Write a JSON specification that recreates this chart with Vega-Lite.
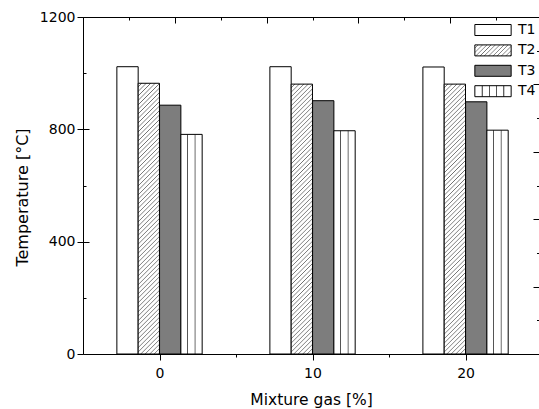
{
 "$schema": "https://vega.github.io/schema/vega-lite/v6.json",
 "width": 456,
 "height": 337,
 "autosize": {"type": "none"},
 "padding": {"left": 83, "top": 17, "right": 0, "bottom": 55},
 "background": "white",
 "config": {
  "view": {"stroke": null},
  "axis": {"grid": false, "domainColor": "black", "tickColor": "black", "labelColor": "black", "titleColor": "black", "labelFont": "DejaVu Sans", "titleFont": "DejaVu Sans", "labelFontSize": 14, "titleFontSize": 15.5, "titleFontWeight": "normal", "domainWidth": 1, "tickWidth": 1}
 },
 "params": [
  {"name": "g2", "value": {"gradient": "linear", "x1": 0, "y1": 0, "x2": 0.0867, "y2": 1.1, "stops": [
{"offset":0,"color":"#fff"},{"offset":0.009,"color":"#fff"},{"offset":0.012,"color":"#6e6e6e"},
{"offset":0.015,"color":"#fff"},{"offset":0.024,"color":"#fff"},{"offset":0.027,"color":"#6e6e6e"},
{"offset":0.03,"color":"#fff"},{"offset":0.039,"color":"#fff"},{"offset":0.042,"color":"#6e6e6e"},
{"offset":0.045,"color":"#fff"},{"offset":0.054,"color":"#fff"},{"offset":0.057,"color":"#6e6e6e"},
{"offset":0.06,"color":"#fff"},{"offset":0.069,"color":"#fff"},{"offset":0.072,"color":"#6e6e6e"},
{"offset":0.075,"color":"#fff"},{"offset":0.084,"color":"#fff"},{"offset":0.087,"color":"#6e6e6e"},
{"offset":0.09,"color":"#fff"},{"offset":0.099,"color":"#fff"},{"offset":0.102,"color":"#6e6e6e"},
{"offset":0.105,"color":"#fff"},{"offset":0.114,"color":"#fff"},{"offset":0.117,"color":"#6e6e6e"},
{"offset":0.12,"color":"#fff"},{"offset":0.129,"color":"#fff"},{"offset":0.132,"color":"#6e6e6e"},
{"offset":0.135,"color":"#fff"},{"offset":0.144,"color":"#fff"},{"offset":0.147,"color":"#6e6e6e"},
{"offset":0.15,"color":"#fff"},{"offset":0.159,"color":"#fff"},{"offset":0.162,"color":"#6e6e6e"},
{"offset":0.165,"color":"#fff"},{"offset":0.174,"color":"#fff"},{"offset":0.177,"color":"#6e6e6e"},
{"offset":0.18,"color":"#fff"},{"offset":0.189,"color":"#fff"},{"offset":0.192,"color":"#6e6e6e"},
{"offset":0.195,"color":"#fff"},{"offset":0.204,"color":"#fff"},{"offset":0.207,"color":"#6e6e6e"},
{"offset":0.21,"color":"#fff"},{"offset":0.219,"color":"#fff"},{"offset":0.222,"color":"#6e6e6e"},
{"offset":0.225,"color":"#fff"},{"offset":0.234,"color":"#fff"},{"offset":0.237,"color":"#6e6e6e"},
{"offset":0.24,"color":"#fff"},{"offset":0.249,"color":"#fff"},{"offset":0.252,"color":"#6e6e6e"},
{"offset":0.255,"color":"#fff"},{"offset":0.264,"color":"#fff"},{"offset":0.267,"color":"#6e6e6e"},
{"offset":0.27,"color":"#fff"},{"offset":0.279,"color":"#fff"},{"offset":0.282,"color":"#6e6e6e"},
{"offset":0.285,"color":"#fff"},{"offset":0.294,"color":"#fff"},{"offset":0.297,"color":"#6e6e6e"},
{"offset":0.3,"color":"#fff"},{"offset":0.309,"color":"#fff"},{"offset":0.312,"color":"#6e6e6e"},
{"offset":0.315,"color":"#fff"},{"offset":0.324,"color":"#fff"},{"offset":0.327,"color":"#6e6e6e"},
{"offset":0.33,"color":"#fff"},{"offset":0.339,"color":"#fff"},{"offset":0.342,"color":"#6e6e6e"},
{"offset":0.345,"color":"#fff"},{"offset":0.354,"color":"#fff"},{"offset":0.357,"color":"#6e6e6e"},
{"offset":0.36,"color":"#fff"},{"offset":0.369,"color":"#fff"},{"offset":0.372,"color":"#6e6e6e"},
{"offset":0.375,"color":"#fff"},{"offset":0.384,"color":"#fff"},{"offset":0.387,"color":"#6e6e6e"},
{"offset":0.39,"color":"#fff"},{"offset":0.399,"color":"#fff"},{"offset":0.402,"color":"#6e6e6e"},
{"offset":0.405,"color":"#fff"},{"offset":0.414,"color":"#fff"},{"offset":0.417,"color":"#6e6e6e"},
{"offset":0.42,"color":"#fff"},{"offset":0.429,"color":"#fff"},{"offset":0.432,"color":"#6e6e6e"},
{"offset":0.435,"color":"#fff"},{"offset":0.444,"color":"#fff"},{"offset":0.447,"color":"#6e6e6e"},
{"offset":0.45,"color":"#fff"},{"offset":0.459,"color":"#fff"},{"offset":0.462,"color":"#6e6e6e"},
{"offset":0.465,"color":"#fff"},{"offset":0.474,"color":"#fff"},{"offset":0.477,"color":"#6e6e6e"},
{"offset":0.48,"color":"#fff"},{"offset":0.489,"color":"#fff"},{"offset":0.492,"color":"#6e6e6e"},
{"offset":0.495,"color":"#fff"},{"offset":0.504,"color":"#fff"},{"offset":0.507,"color":"#6e6e6e"},
{"offset":0.51,"color":"#fff"},{"offset":0.519,"color":"#fff"},{"offset":0.522,"color":"#6e6e6e"},
{"offset":0.525,"color":"#fff"},{"offset":0.534,"color":"#fff"},{"offset":0.537,"color":"#6e6e6e"},
{"offset":0.54,"color":"#fff"},{"offset":0.549,"color":"#fff"},{"offset":0.552,"color":"#6e6e6e"},
{"offset":0.555,"color":"#fff"},{"offset":0.564,"color":"#fff"},{"offset":0.567,"color":"#6e6e6e"},
{"offset":0.57,"color":"#fff"},{"offset":0.579,"color":"#fff"},{"offset":0.582,"color":"#6e6e6e"},
{"offset":0.585,"color":"#fff"},{"offset":0.594,"color":"#fff"},{"offset":0.597,"color":"#6e6e6e"},
{"offset":0.6,"color":"#fff"},{"offset":0.609,"color":"#fff"},{"offset":0.612,"color":"#6e6e6e"},
{"offset":0.615,"color":"#fff"},{"offset":0.624,"color":"#fff"},{"offset":0.627,"color":"#6e6e6e"},
{"offset":0.63,"color":"#fff"},{"offset":0.639,"color":"#fff"},{"offset":0.642,"color":"#6e6e6e"},
{"offset":0.645,"color":"#fff"},{"offset":0.654,"color":"#fff"},{"offset":0.657,"color":"#6e6e6e"},
{"offset":0.66,"color":"#fff"},{"offset":0.669,"color":"#fff"},{"offset":0.672,"color":"#6e6e6e"},
{"offset":0.675,"color":"#fff"},{"offset":0.684,"color":"#fff"},{"offset":0.687,"color":"#6e6e6e"},
{"offset":0.69,"color":"#fff"},{"offset":0.699,"color":"#fff"},{"offset":0.702,"color":"#6e6e6e"},
{"offset":0.705,"color":"#fff"},{"offset":0.714,"color":"#fff"},{"offset":0.717,"color":"#6e6e6e"},
{"offset":0.72,"color":"#fff"},{"offset":0.729,"color":"#fff"},{"offset":0.732,"color":"#6e6e6e"},
{"offset":0.735,"color":"#fff"},{"offset":0.744,"color":"#fff"},{"offset":0.747,"color":"#6e6e6e"},
{"offset":0.75,"color":"#fff"},{"offset":0.759,"color":"#fff"},{"offset":0.762,"color":"#6e6e6e"},
{"offset":0.765,"color":"#fff"},{"offset":0.774,"color":"#fff"},{"offset":0.777,"color":"#6e6e6e"},
{"offset":0.78,"color":"#fff"},{"offset":0.789,"color":"#fff"},{"offset":0.792,"color":"#6e6e6e"},
{"offset":0.795,"color":"#fff"},{"offset":0.804,"color":"#fff"},{"offset":0.807,"color":"#6e6e6e"},
{"offset":0.81,"color":"#fff"},{"offset":0.819,"color":"#fff"},{"offset":0.822,"color":"#6e6e6e"},
{"offset":0.825,"color":"#fff"},{"offset":0.834,"color":"#fff"},{"offset":0.837,"color":"#6e6e6e"},
{"offset":0.84,"color":"#fff"},{"offset":0.849,"color":"#fff"},{"offset":0.852,"color":"#6e6e6e"},
{"offset":0.855,"color":"#fff"},{"offset":0.864,"color":"#fff"},{"offset":0.867,"color":"#6e6e6e"},
{"offset":0.87,"color":"#fff"},{"offset":0.879,"color":"#fff"},{"offset":0.882,"color":"#6e6e6e"},
{"offset":0.885,"color":"#fff"},{"offset":0.894,"color":"#fff"},{"offset":0.897,"color":"#6e6e6e"},
{"offset":0.9,"color":"#fff"},{"offset":0.909,"color":"#fff"},{"offset":0.912,"color":"#6e6e6e"},
{"offset":0.915,"color":"#fff"},{"offset":0.924,"color":"#fff"},{"offset":0.927,"color":"#6e6e6e"},
{"offset":0.93,"color":"#fff"},{"offset":0.939,"color":"#fff"},{"offset":0.942,"color":"#6e6e6e"},
{"offset":0.945,"color":"#fff"},{"offset":0.954,"color":"#fff"},{"offset":0.957,"color":"#6e6e6e"},
{"offset":0.96,"color":"#fff"},{"offset":0.969,"color":"#fff"},{"offset":0.972,"color":"#6e6e6e"},
{"offset":0.975,"color":"#fff"},{"offset":0.984,"color":"#fff"},{"offset":0.987,"color":"#6e6e6e"},
{"offset":0.99,"color":"#fff"},{"offset":1,"color":"#fff"}
  ]}},
  {"name": "g4", "value": {"gradient": "linear", "x1": 0, "y1": 0, "x2": 1, "y2": 0, "stops": [
{"offset":0,"color":"#fff"},{"offset":0.27,"color":"#fff"},{"offset":0.285,"color":"#555"},{"offset":0.315,"color":"#555"},{"offset":0.33,"color":"#fff"},
{"offset":0.635,"color":"#fff"},{"offset":0.65,"color":"#555"},{"offset":0.68,"color":"#555"},{"offset":0.695,"color":"#fff"},{"offset":1,"color":"#fff"}
  ]}},
  {"name": "g2L", "value": {"gradient": "linear", "x1": 0, "y1": 0, "x2": 1.2, "y2": 0.367, "stops": [
{"offset":0,"color":"#fff"},{"offset":0.054,"color":"#fff"},{"offset":0.072,"color":"#6e6e6e"},
{"offset":0.09,"color":"#fff"},{"offset":0.144,"color":"#fff"},{"offset":0.162,"color":"#6e6e6e"},
{"offset":0.18,"color":"#fff"},{"offset":0.234,"color":"#fff"},{"offset":0.252,"color":"#6e6e6e"},
{"offset":0.27,"color":"#fff"},{"offset":0.324,"color":"#fff"},{"offset":0.342,"color":"#6e6e6e"},
{"offset":0.36,"color":"#fff"},{"offset":0.414,"color":"#fff"},{"offset":0.432,"color":"#6e6e6e"},
{"offset":0.45,"color":"#fff"},{"offset":0.504,"color":"#fff"},{"offset":0.522,"color":"#6e6e6e"},
{"offset":0.54,"color":"#fff"},{"offset":0.594,"color":"#fff"},{"offset":0.612,"color":"#6e6e6e"},
{"offset":0.63,"color":"#fff"},{"offset":0.684,"color":"#fff"},{"offset":0.702,"color":"#6e6e6e"},
{"offset":0.72,"color":"#fff"},{"offset":0.774,"color":"#fff"},{"offset":0.792,"color":"#6e6e6e"},
{"offset":0.81,"color":"#fff"},{"offset":0.864,"color":"#fff"},{"offset":0.882,"color":"#6e6e6e"},
{"offset":0.9,"color":"#fff"},{"offset":0.954,"color":"#fff"},{"offset":0.972,"color":"#6e6e6e"},
{"offset":0.99,"color":"#fff"},{"offset":1,"color":"#fff"}
  ]}},
  {"name": "g4L", "value": {"gradient": "linear", "x1": 0, "y1": 0, "x2": 1, "y2": 0, "stops": [
{"offset":0,"color":"#fff"},{"offset":0.18,"color":"#fff"},{"offset":0.19,"color":"#555"},{"offset":0.21,"color":"#555"},{"offset":0.22,"color":"#fff"},
{"offset":0.38,"color":"#fff"},{"offset":0.39,"color":"#555"},{"offset":0.41,"color":"#555"},{"offset":0.42,"color":"#fff"},
{"offset":0.58,"color":"#fff"},{"offset":0.59,"color":"#555"},{"offset":0.61,"color":"#555"},{"offset":0.62,"color":"#fff"},
{"offset":0.78,"color":"#fff"},{"offset":0.79,"color":"#555"},{"offset":0.81,"color":"#555"},{"offset":0.82,"color":"#fff"},{"offset":1,"color":"#fff"}
  ]}}
 ],
 "data": {"values": [
  {"mixture": 0, "series": "T1", "temp": 1023},
  {"mixture": 0, "series": "T2", "temp": 964},
  {"mixture": 0, "series": "T3", "temp": 886},
  {"mixture": 0, "series": "T4", "temp": 782},
  {"mixture": 10, "series": "T1", "temp": 1023},
  {"mixture": 10, "series": "T2", "temp": 961},
  {"mixture": 10, "series": "T3", "temp": 902},
  {"mixture": 10, "series": "T4", "temp": 795},
  {"mixture": 20, "series": "T1", "temp": 1022},
  {"mixture": 20, "series": "T2", "temp": 961},
  {"mixture": 20, "series": "T3", "temp": 898},
  {"mixture": 20, "series": "T4", "temp": 797}
 ]},
 "layer": [
  {
   "encoding": {
    "x": {"field": "mixture", "type": "quantitative", "scale": {"domain": [-5, 24.8], "nice": false, "zero": false, "padding": 0},
      "axis": {"orient": "bottom", "values": [0, 5, 10, 15, 20], "labelExpr": "datum.value % 10 === 0 ? datum.label : ''",
        "tickSize": {"condition": {"test": "datum.value % 10 === 0", "value": 6}, "value": 3},
        "labelPadding": 6, "title": "Mixture gas [%]", "titlePadding": 12}},
    "y": {"field": "temp", "type": "quantitative", "scale": {"domain": [0, 1200], "nice": false},
      "axis": {"orient": "left", "values": [0, 400, 800, 1200], "format": "d", "tickSize": 6, "labelPadding": 2, "title": "Temperature [°C]", "titlePadding": 9, "titleFontSize": 16, "titleY": 180}}
   },
   "layer": [
    {"transform": [{"filter": "datum.series === 'T1'"}], "mark": {"type": "bar", "width": 21.3, "xOffset": -32, "fill": "#ffffff", "stroke": "black", "strokeWidth": 1}},
    {"transform": [{"filter": "datum.series === 'T2'"}], "mark": {"type": "bar", "width": 21.3, "xOffset": -10.7, "fill": {"expr": "g2"}, "stroke": "black", "strokeWidth": 1}},
    {"transform": [{"filter": "datum.series === 'T3'"}], "mark": {"type": "bar", "width": 21.3, "xOffset": 10.7, "fill": "#7d7d7d", "stroke": "black", "strokeWidth": 1}},
    {"transform": [{"filter": "datum.series === 'T4'"}], "mark": {"type": "bar", "width": 21.3, "xOffset": 32, "fill": {"expr": "g4"}, "stroke": "black", "strokeWidth": 1}}
   ]
  },
  {
   "mark": {"type": "point", "opacity": 0},
   "encoding": {
    "x": {"field": "mixture", "type": "quantitative", "scale": {"domain": [-5, 24.8], "nice": false, "zero": false, "padding": 0},
      "axis": {"orient": "top", "values": [-5, -2, 1, 4, 7, 10, 13, 16, 19, 22], "labels": false, "title": null,
        "tickSize": {"condition": {"test": "(datum.value + 5) % 6 === 0", "value": -6}, "value": -3}}},
    "y": {"field": "temp", "type": "quantitative", "scale": {"domain": [0, 1200], "nice": false},
      "axis": {"orient": "right", "values": [0, 120, 240, 360, 480, 600, 720, 840, 960, 1080, 1200], "labels": false, "title": null, "domain": false,
        "tickSize": {"condition": {"test": "datum.value % 240 === 0", "value": -6}, "value": -2.5}}},
    "fill": {"field": "series", "type": "nominal",
      "scale": {"domain": ["T1", "T2", "T3", "T4"], "range": ["#ffffff", {"expr": "g2L"}, "#7d7d7d", {"expr": "g4L"}]},
      "legend": {"title": null, "orient": "none", "legendX": 403, "legendY": 6, "symbolType": "M-3.3,-1H3.3V1H-3.3Z", "symbolSize": 121,
        "symbolStrokeColor": "black", "symbolStrokeWidth": 1, "symbolOpacity": 1, "labelFont": "DejaVu Sans", "labelFontSize": 14, "labelColor": "black",
        "labelOffset": 18, "rowPadding": 4.4, "padding": 0}}
   }
  },
  {
   "mark": {"type": "point", "opacity": 0},
   "encoding": {
    "y": {"field": "temp", "type": "quantitative", "scale": {"domain": [0, 1200], "nice": false},
      "axis": {"orient": "left", "values": [0, 200, 400, 600, 800, 1000, 1200], "labels": false, "title": null, "domain": false,
        "tickSize": {"condition": {"test": "datum.value % 400 === 0", "value": -6}, "value": -3}}}
   }
  }
 ],
 "resolve": {"axis": {"x": "independent", "y": "independent"}}
}
